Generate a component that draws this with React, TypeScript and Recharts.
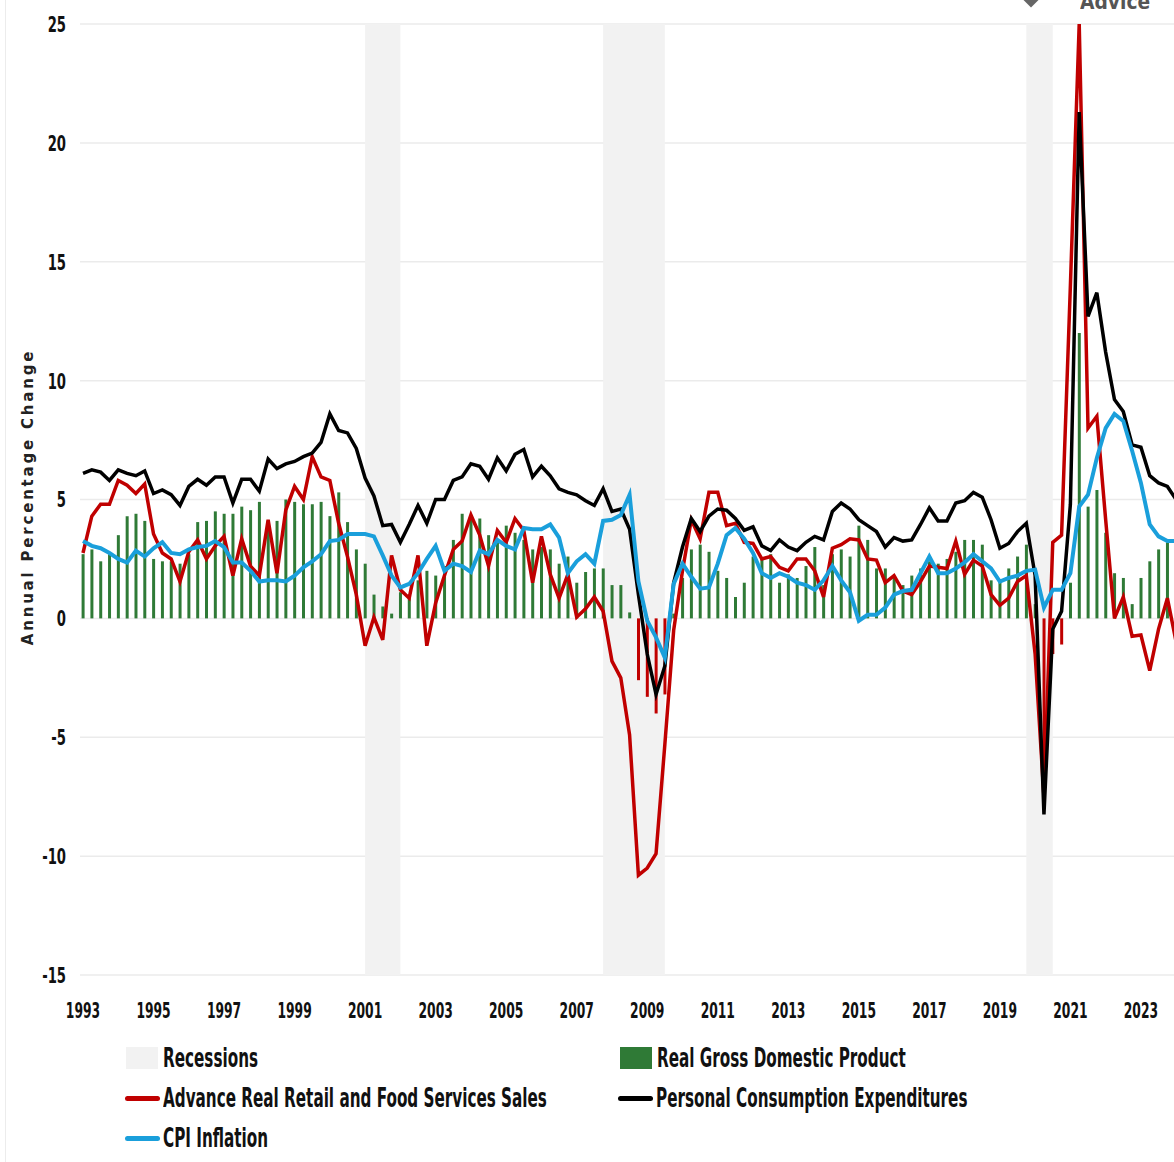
import React from 'react';
import {
  ComposedChart,
  Bar,
  Cell,
  Line,
  XAxis,
  YAxis,
  CartesianGrid,
  ReferenceArea,
} from 'recharts';

// quarterly, 1993 Q1 .. 2024 Q1, annual % change
const START_YEAR = 1993;

const gdp = [
  2.7, 2.9, 2.4, 2.7, 3.5, 4.3, 4.4, 4.1, 2.5, 2.4, 2.4, 2.3, 2.7, 4.05, 4.1, 4.5,
  4.4, 4.4, 4.7, 4.55, 4.9, 4.1, 4.1, 5.0, 4.9, 4.8, 4.8, 4.9, 4.3, 5.3, 4.05, 2.9,
  2.3, 1.0, 0.5, 0.2, 1.1, 1.0, 1.6, 2.0, 1.8, 2.2, 3.3, 4.4, 4.2, 4.2, 3.5, 3.3,
  3.9, 3.6, 3.3, 2.9, 3.0, 2.9, 2.3, 2.6, 1.5, 1.95, 2.1, 2.1, 1.4, 1.4, 0.25, -2.6,
  -3.3, -4.0, -3.2, 0.2, 1.7, 2.9, 3.1, 2.8, 2.0, 1.7, 0.9, 1.5, 2.6, 2.55, 2.7, 1.5,
  1.85, 1.7, 2.2, 3.0, 1.4, 2.7, 2.9, 2.6, 3.9, 3.3, 2.1, 2.1, 1.8, 1.4, 1.8, 2.1,
  2.4, 2.3, 2.5, 2.8, 3.3, 3.3, 3.1, 1.6, 1.6, 2.1, 2.6, 3.1, 0.6, -7.5, -1.5, -1.1,
  1.5, 12.0, 4.7, 5.4, 3.6, 1.9, 1.7, 0.6, 1.7, 2.4, 2.9, 3.2, 2.9,
];

const retail = [
  2.75, 4.3, 4.8, 4.8, 5.8, 5.6, 5.25, 5.65, 3.55, 2.75, 2.5, 1.55, 2.8, 3.3, 2.5, 3.05,
  3.45, 1.8, 3.35, 2.2, 1.8, 4.15, 1.9, 4.55, 5.55, 5.0, 6.8, 5.95, 5.8, 4.0, 2.6, 1.0,
  -1.15, 0.05, -0.9, 2.65, 1.2, 0.85, 2.65, -1.15, 0.65, 1.8, 2.9, 3.25, 4.35, 3.5, 2.2, 3.7,
  3.2, 4.2, 3.7, 1.5, 3.45, 1.85, 0.85, 1.85, 0.05, 0.4, 0.9, 0.3, -1.8, -2.5, -4.9, -10.8,
  -10.5, -9.9, -5.3, -0.5, 2.0, 4.15, 3.35, 5.3, 5.3, 3.9, 4.0, 3.2, 3.15, 2.5, 2.6, 2.15,
  2.0, 2.5, 2.5, 2.0, 0.9, 2.95, 3.1, 3.35, 3.3, 2.5, 2.45, 1.5, 1.8, 1.15, 1.0, 1.55,
  2.2, 2.15, 2.1, 3.25, 1.85, 2.45, 2.2, 1.0, 0.55, 0.85, 1.55, 1.8, -1.5, -7.5, 3.2, 3.5,
  14.0, 25.0, 8.0, 8.5, 4.15, 0.0, 0.9, -0.75, -0.7, -2.2, -0.45, 0.85, -1.0,
];

const pce = [
  6.1, 6.25, 6.15, 5.8, 6.25, 6.1, 6.0, 6.2, 5.25, 5.4, 5.2, 4.75, 5.55, 5.85, 5.6, 5.95,
  5.95, 4.85, 5.85, 5.85, 5.35, 6.7, 6.3, 6.5, 6.6, 6.8, 6.95, 7.4, 8.6, 7.9, 7.8, 7.15,
  5.9, 5.15, 3.9, 3.95, 3.2, 3.95, 4.75, 4.0, 5.0, 5.0, 5.8, 5.95, 6.5, 6.4, 5.85, 6.75,
  6.2, 6.9, 7.1, 5.95, 6.4, 6.0, 5.45, 5.3, 5.2, 4.95, 4.75, 5.45, 4.5, 4.6, 3.75, 1.0,
  -1.5, -3.2, -2.0, 1.5, 3.0, 4.2, 3.65, 4.3, 4.6, 4.55, 4.2, 3.7, 3.85, 3.05, 2.85, 3.3,
  3.0, 2.85, 3.2, 3.45, 3.3, 4.5, 4.85, 4.6, 4.15, 3.9, 3.65, 3.0, 3.4, 3.25, 3.3, 3.95,
  4.65, 4.1, 4.1, 4.85, 4.95, 5.3, 5.1, 4.15, 2.95, 3.15, 3.65, 4.0, 1.8, -8.25, -0.45, 0.3,
  4.8, 21.3, 12.7, 13.7, 11.2, 9.2, 8.7, 7.3, 7.2, 6.0, 5.7, 5.55, 5.0,
];

const cpi = [
  3.25, 3.05, 2.95, 2.75, 2.5, 2.35, 2.85, 2.6, 2.95, 3.2, 2.75, 2.7, 2.9, 3.0, 3.05, 3.25,
  3.0, 2.35, 2.35, 2.0, 1.55, 1.6, 1.6, 1.55, 1.8, 2.15, 2.4, 2.7, 3.25, 3.3, 3.55, 3.55,
  3.55, 3.45, 2.65, 1.8, 1.3, 1.45, 1.9, 2.5, 3.05, 2.0, 2.3, 2.2, 1.95, 2.85, 2.7, 3.3,
  3.05, 2.9, 3.8, 3.75, 3.75, 3.95, 3.4, 1.9, 2.4, 2.7, 2.3, 4.1, 4.15, 4.35, 5.2, 1.55,
  -0.1, -0.8, -1.65, 1.45, 2.3, 1.75, 1.25, 1.3, 2.3, 3.5, 3.8, 3.35, 2.75, 1.9, 1.7, 1.9,
  1.75, 1.5, 1.4, 1.2, 1.6, 2.2, 1.6, 1.1, -0.1, 0.15, 0.15, 0.45, 1.0, 1.15, 1.2, 1.9,
  2.6, 1.9, 1.9, 2.1, 2.35, 2.7, 2.4, 2.1, 1.55, 1.7, 1.8, 2.0, 2.05, 0.45, 1.2, 1.2,
  1.9, 4.7, 5.2, 6.75, 8.0, 8.6, 8.3, 7.05, 5.7, 3.95, 3.45, 3.25, 3.25,
];

const yearTicks = ['1993', '1995', '1997', '1999', '2001', '2003', '2005', '2007',
  '2009', '2011', '2013', '2015', '2017', '2019', '2021', '2023'];
const valueTicks = [-15, -10, -5, 0, 5, 10, 15, 20, 25];

// recession start / end, in years
const recessions = [
  [2001.0, 2002.0],
  [2007.75, 2009.5],
  [2019.75, 2020.5],
];

const GREEN = '#2f7a36';
const RED = '#c00000';
const BLUE = '#1a9fdb';
const BAND = '#f2f2f2';
const FONT = "'DejaVu Sans', sans-serif";

const data = gdp.map((g, i) => ({
  t: START_YEAR + i / 4,
  gdp: g,
  retail: retail[i],
  pce: pce[i],
  cpi: cpi[i],
}));

// the source uses a squeezed font, so ticks are scaled horizontally
function XTick({ x, y, payload }: any) {
  return (
    <g transform={`translate(${x},${y})`}>
      <text transform='scale(0.56,1)' textAnchor='middle' dy='0.71em' fontFamily={FONT} fontWeight={700} fontSize={22} fill='#111'>
        {payload.value}
      </text>
    </g>
  );
}

function YTick({ x, y, payload }: any) {
  return (
    <g transform={`translate(${x},${y})`}>
      <text transform='scale(0.6,1)' textAnchor='end' dy='0.36em' fontFamily={FONT} fontWeight={700} fontSize={22} fill='#111'>
        {payload.value}
      </text>
    </g>
  );
}

function LegendItem({ left, top, label, color, line }: { left: number; top: number; label: string; color: string; line?: boolean }) {
  return (
    <div style={{ position: 'absolute', left, top, height: 26, width: 600 }}>
      {line ? (
        <span style={{ position: 'absolute', left: 0, top: 11, width: 35, height: 5, borderRadius: 3, background: color }} />
      ) : (
        <span style={{ position: 'absolute', left: 0, top: 2, width: 32, height: 22, background: color }} />
      )}
      <span style={{ position: 'absolute', left: line ? 38 : 37, top: 0, whiteSpace: 'nowrap', fontFamily: FONT, fontSize: 26,
        fontWeight: 700, lineHeight: '26px', color: '#111', transform: 'scaleX(0.585)', transformOrigin: 'left center' }}>
        {label}
      </span>
    </div>
  );
}

export default function App() {
  return (
    <div style={{ position: 'absolute', left: 0, top: 0, width: 1174, height: 1162, overflow: 'hidden', background: '#fff' }}>
      <div style={{ position: 'absolute', left: 5, top: 0, width: 1, height: 1162, background: '#ececec' }} />
      <div style={{ position: 'absolute', left: 1080, top: -9, fontFamily: FONT, fontWeight: 700, fontSize: 22,
        color: '#555', lineHeight: 1, transform: 'scaleX(0.85)', transformOrigin: 'left top' }}>Advice</div>
      <div style={{ position: 'absolute', left: 1025, top: -7, width: 12, height: 12, background: '#666', transform: 'rotate(45deg)' }} />

      <div style={{ position: 'absolute', left: 0, top: 0 }}>
        <ComposedChart width={1200} height={1030} data={data} margin={{ top: 24, right: 15, left: 0, bottom: 0 }}>
          <CartesianGrid vertical={false} stroke='#ebebeb' strokeWidth={1.5} />
          {recessions.map(([a, b]) => (
            <ReferenceArea key={a} x1={a} x2={b} y1={-15} y2={25} fill={BAND} fillOpacity={1} stroke='none' ifOverflow='hidden' />
          ))}
          <XAxis
            type='number'
            dataKey='t'
            domain={[1992.915, 2024.25]}
            ticks={yearTicks.map(Number)}
            allowDataOverflow
            axisLine={false}
            tickLine={false}
            tickSize={0}
            tickMargin={27}
            height={55}
            tick={<XTick />}
          />
          <YAxis
            domain={[-15, 25]}
            ticks={valueTicks}
            allowDataOverflow
            axisLine={false}
            tickLine={false}
            tickSize={0}
            tickMargin={14}
            width={80}
            tick={<YTick />}
          />
          <Bar dataKey='gdp' barSize={3} isAnimationActive={false}>
            {gdp.map((v, i) => (
              <Cell key={i} fill={v < 0 ? RED : GREEN} />
            ))}
          </Bar>
          <Line type='linear' dataKey='retail' stroke={RED} strokeWidth={3.5} dot={false} isAnimationActive={false} />
          <Line type='linear' dataKey='pce' stroke='#000' strokeWidth={3.5} dot={false} isAnimationActive={false} />
          <Line type='linear' dataKey='cpi' stroke={BLUE} strokeWidth={4} dot={false} isAnimationActive={false} />
        </ComposedChart>
      </div>

      <div style={{ position: 'absolute', left: 28, top: 497, transform: 'translate(-50%, -50%) rotate(-90deg)',
        whiteSpace: 'nowrap', fontFamily: FONT, fontWeight: 700, fontSize: 15,
        letterSpacing: 2.8, color: '#222' }}>
        Annual Percentage Change
      </div>

      <LegendItem left={126} top={1045} label='Recessions' color={BAND} />
      <LegendItem left={620} top={1045} label='Real Gross Domestic Product' color={GREEN} />
      <LegendItem left={125} top={1085} label='Advance Real Retail and Food Services Sales' color={RED} line />
      <LegendItem left={618} top={1085} label='Personal Consumption Expenditures' color='#000' line />
      <LegendItem left={125} top={1125} label='CPI Inflation' color={BLUE} line />
    </div>
  );
}
